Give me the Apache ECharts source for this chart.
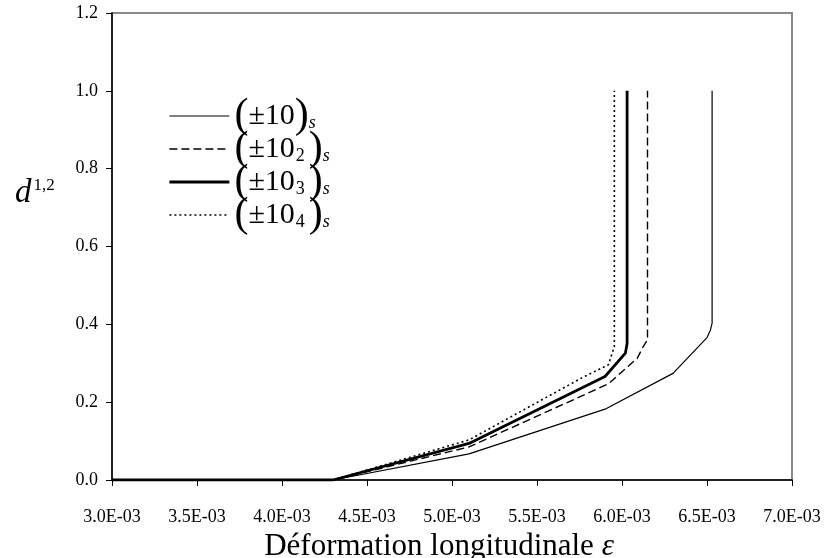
<!DOCTYPE html>
<html>
<head>
<meta charset="utf-8">
<script src="https://cdn.jsdelivr.net/npm/echarts@6/dist/echarts.min.js"></script>
<style>
html,body{margin:0;padding:0;background:#fff;}
#chart{width:826px;height:558px;}
</style>
</head>
<body>
<div id="chart"></div>
<script>
// ---- data ----
const xTickLabels = ['3.0E-03','3.5E-03','4.0E-03','4.5E-03','5.0E-03','5.5E-03','6.0E-03','6.5E-03','7.0E-03'];
const yTickLabels = ['0.0','0.2','0.4','0.6','0.8','1.0','1.2'];
const seriesNames = ['(±10)s','(±10_2)s','(±10_3)s','(±10_4)s'];

const strainA = [3.0e-3, 4.3e-3, 5.1e-3, 5.9e-3, 6.3e-3, 6.5e-3, 6.52e-3, 6.53e-3, 6.53e-3];
const damageA = [0, 0, 0.067, 0.182, 0.274, 0.366, 0.385, 0.403, 1.0];

const strainB = [3.0e-3, 4.3e-3, 5.1e-3, 5.92e-3, 6.09e-3, 6.125e-3, 6.15e-3, 6.15e-3];
const damageB = [0, 0, 0.085, 0.247, 0.313, 0.343, 0.36, 1.0];

const strainC = [3.0e-3, 4.3e-3, 5.1e-3, 5.9e-3, 6.02e-3, 6.03e-3, 6.03e-3];
const damageC = [0, 0, 0.094, 0.266, 0.326, 0.351, 1.0];

const strainD = [3.0e-3, 4.3e-3, 5.1e-3, 5.77e-3, 5.92e-3, 5.955e-3, 5.955e-3];
const damageD = [0, 0, 0.103, 0.264, 0.296, 0.343, 1.0];

// ---- chart ----
const pair = (xs, ys) => xs.map((x, i) => [x, ys[i]]);
const xMin = 0.003, xStep = 0.0005;
const F = 'Liberation Serif, Times New Roman, serif';

const lineStyles = [
  {color: '#000', width: 1.2, type: 'solid'},
  {color: '#000', width: 1.4, type: [8, 4]},
  {color: '#000', width: 2.8, type: 'solid'},
  {color: '#000', width: 1.6, type: [2, 3]}
];

const legendRich = {
  p: {fontFamily: F, fontSize: 42, lineHeight: 33, color: '#000'},
  t: {fontFamily: F, fontSize: 30, lineHeight: 33, color: '#000'},
  sub: {fontFamily: F, fontSize: 18, lineHeight: 18, verticalAlign: 'bottom', color: '#000', padding: [0, 4, 0, 1]},
  s: {fontFamily: F, fontSize: 18, fontStyle: 'italic', lineHeight: 18, verticalAlign: 'bottom', color: '#000'}
};
const legendText = {
  '(±10)s': '{p|(}{t|±10}{p|)}{s|s}',
  '(±10_2)s': '{p|(}{t|±10}{sub|2}{p|)}{s|s}',
  '(±10_3)s': '{p|(}{t|±10}{sub|3}{p|)}{s|s}',
  '(±10_4)s': '{p|(}{t|±10}{sub|4}{p|)}{s|s}'
};

const chart = echarts.init(document.getElementById('chart'), null, {renderer: 'canvas'});
chart.setOption({
  animation: false,
  backgroundColor: '#fff',
  title: {
    text: '{d|d}{sup|1,2}',
    left: 10, top: 168,
    textStyle: {
      fontWeight: 'normal',
      rich: {
        d: {fontFamily: F, fontSize: 33, fontStyle: 'italic', fontWeight: 'normal', lineHeight: 40, color: '#000'},
        sup: {fontFamily: F, fontSize: 17, fontWeight: 'normal', lineHeight: 17, verticalAlign: 'top', color: '#000', padding: [4, 0, 0, 2]}
      }
    }
  },
  legend: {
    orient: 'vertical',
    left: 163, top: 90,
    itemWidth: 60, itemHeight: 20, itemGap: -9,
    itemStyle: {opacity: 0},
    data: seriesNames.map((n, i) => ({name: n, lineStyle: lineStyles[i], itemStyle: {opacity: 0}})),
    formatter: n => legendText[n],
    textStyle: {rich: legendRich}
  },
  grid: {left: 112, right: 34, top: 13, bottom: 78, outerBoundsMode: 'none', containLabel: false,
         show: true, borderColor: '#888', borderWidth: 2, backgroundColor: '#fff'},
  xAxis: {
    type: 'value', min: xMin, max: 0.007, interval: xStep,
    name: 'Déformation longitudinale {e|ε}', nameLocation: 'middle', nameGap: 50,
    nameTextStyle: {fontFamily: F, fontSize: 31, color: '#000', padding: [0, 26, 0, 0],
      rich: {e: {fontFamily: F, fontSize: 31, fontStyle: 'italic', color: '#000'}}},
    axisLine: {show: true, lineStyle: {color: '#000', width: 1.5}},
    axisTick: {show: true, inside: false, length: 6, lineStyle: {color: '#000'}},
    axisLabel: {margin: 28, fontFamily: F, fontSize: 18, color: '#000',
      formatter: v => xTickLabels[Math.round((v - xMin) / xStep)]},
    splitLine: {show: false}
  },
  yAxis: {
    type: 'value', min: 0, max: 1.2, interval: 0.2,
    axisLine: {show: true, lineStyle: {color: '#000', width: 1.5}},
    axisTick: {show: true, inside: false, length: 6, lineStyle: {color: '#000'}},
    axisLabel: {margin: 14, fontFamily: F, fontSize: 18, color: '#000',
      formatter: v => yTickLabels[Math.round(v / 0.2)]},
    splitLine: {show: false}
  },
  series: seriesNames.map((n, i) => ({
    name: n, type: 'line', symbol: 'none',
    data: pair([strainA, strainB, strainC, strainD][i], [damageA, damageB, damageC, damageD][i]),
    lineStyle: lineStyles[i], itemStyle: {color: '#000'}
  }))
});
</script>
</body>
</html>
